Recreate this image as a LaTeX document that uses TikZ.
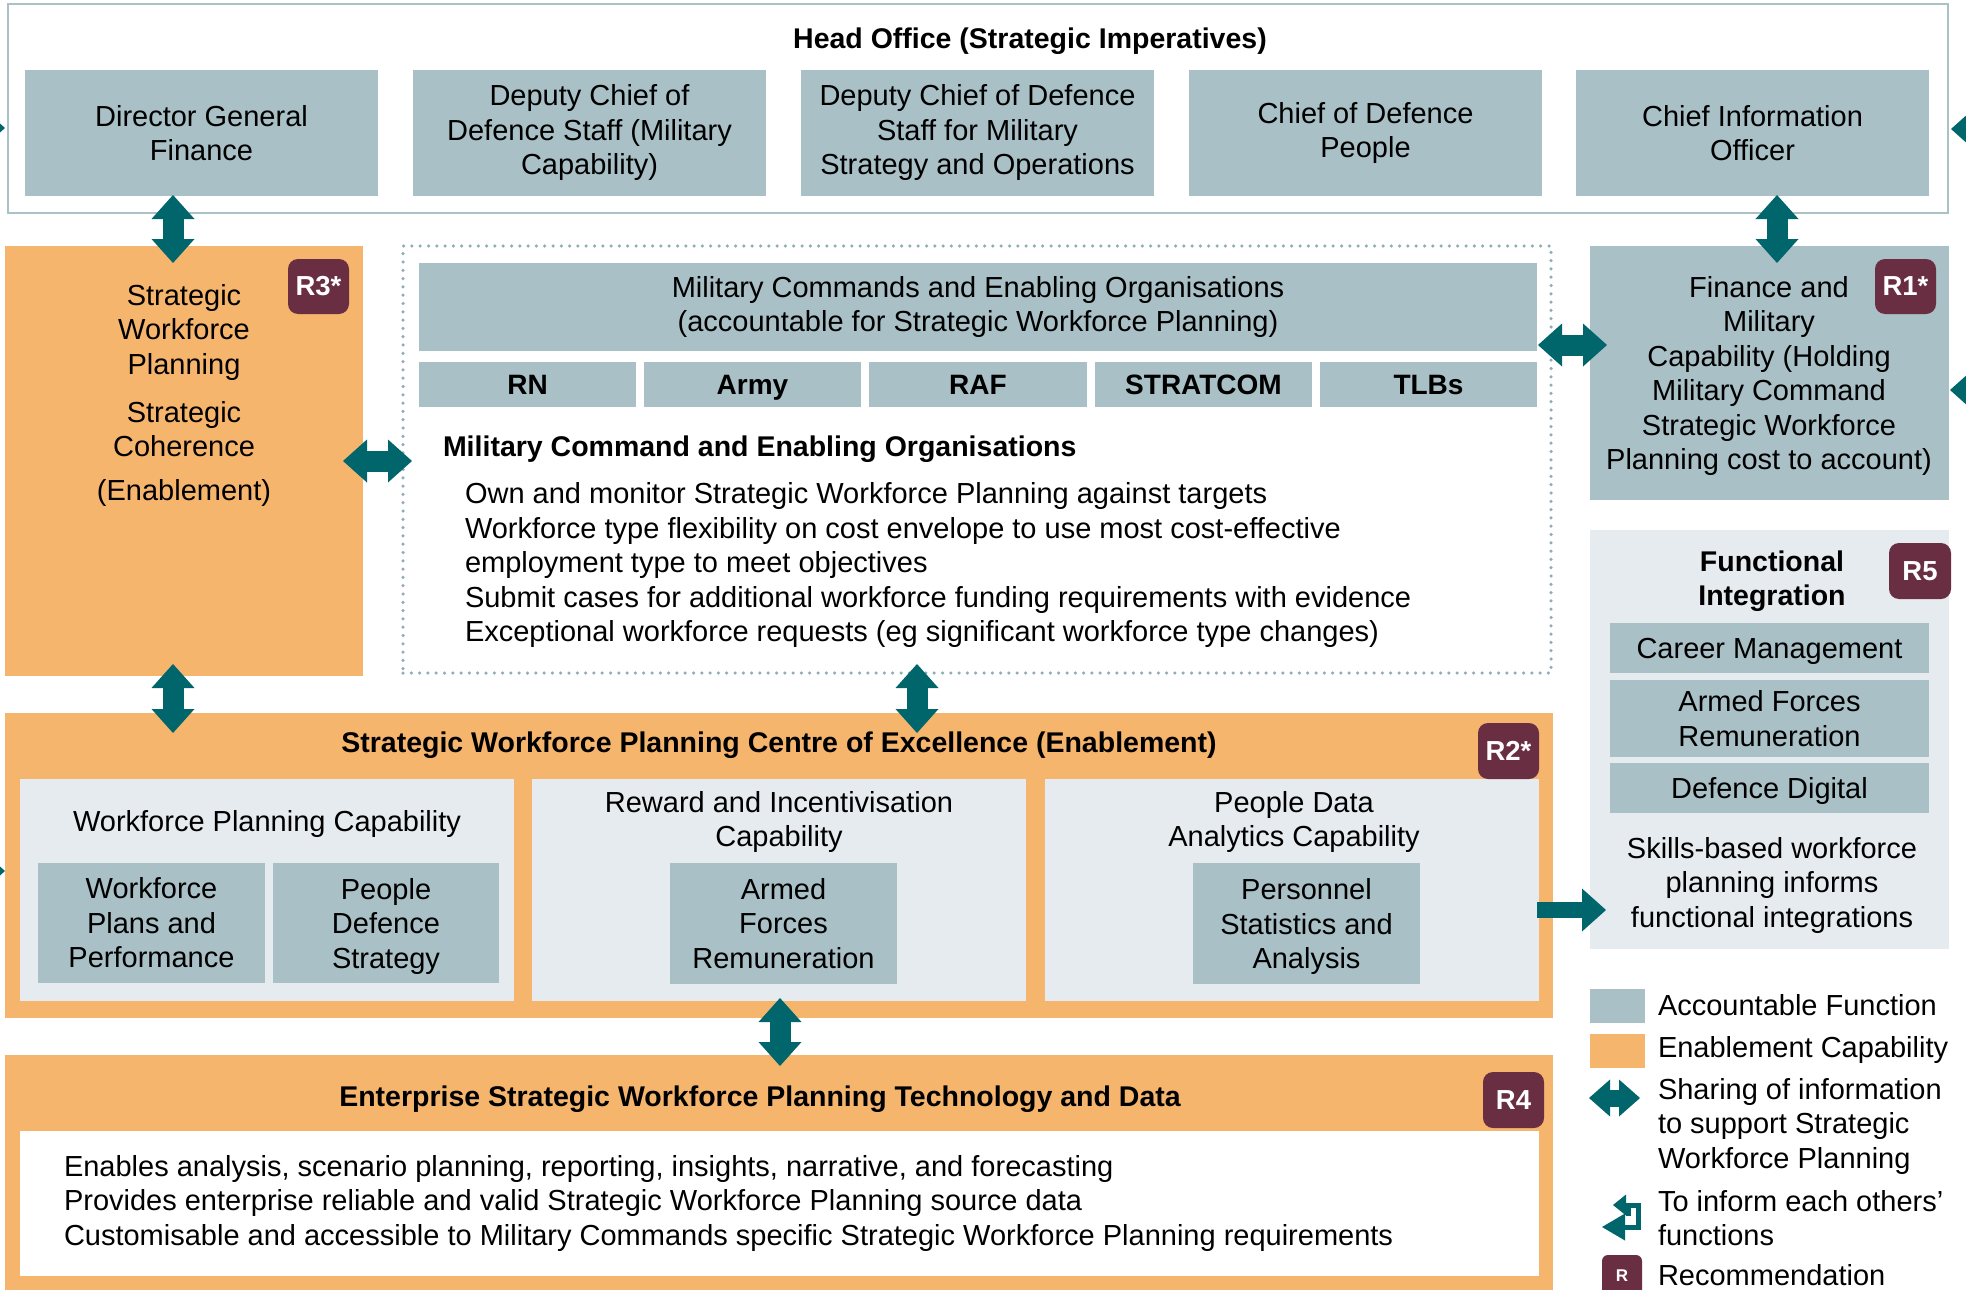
\documentclass[tikz,border=0pt]{standalone}
\usepackage{fontspec}
\setmainfont{Liberation Sans}
\usetikzlibrary{arrows.meta,calc}
\definecolor{accC}{HTML}{A8C0C6}
\definecolor{orC}{HTML}{F6B56D}
\definecolor{lightC}{HTML}{E6EBEF}
\definecolor{tealC}{HTML}{00666B}
\definecolor{badgeC}{HTML}{6A2E43}
\definecolor{dotC}{HTML}{8DAEB4}
\definecolor{hoC}{HTML}{A9C1C7}
\newcommand{\mkbox}[7]{%
  \pgfmathsetmacro\mkcx{(#2+#4)/2}%
  \pgfmathsetmacro\mkcy{(#3+#5)/2}%
  \pgfmathsetmacro\mkw{#4-#2}%
  \pgfmathsetmacro\mkh{#5-#3}%
  \node[#6, minimum width=\mkw pt, minimum height=\mkh pt] (#1) at (\mkcx,\mkcy) {#7};}
\tikzset{
  mybase/.style={inner sep=0pt, outer sep=0pt, text=black, font=\fontsize{29}{34.5}\selectfont},
  acc/.style={mybase, fill=accC, align=center},
  accone/.style={acc, text height=20.6pt, text depth=0pt},
  accnd/.style={acc, text depth=0pt},
  accb/.style={acc, text height=20.3pt, text depth=0pt, font=\bfseries\fontsize{28}{34}\selectfont},
  orng/.style={mybase, fill=orC},
  light/.style={mybase, fill=lightC},
  txt/.style={mybase, align=center},
  btxt/.style={mybase, align=center, font=\bfseries\fontsize{28.5}{34.5}\selectfont},
  badge/.style={mybase, fill=badgeC, rounded corners=10pt, text=white, font=\bfseries\fontsize{27.5}{30}\selectfont},
  dotbox/.style={mybase, draw=dotC, line width=3.5pt, dash pattern=on 0pt off 8.3pt, line cap=round},
  fat/.style={draw=tealC, line width=21pt, {Triangle[width=43pt,length=24pt,line width=0pt]}-{Triangle[width=43pt,length=24pt,line width=0pt]}},
  fatone/.style={draw=tealC, line width=16pt, -{Triangle[width=43pt,length=24pt,line width=0pt]}},
  fatend/.style={draw=tealC, line width=21pt, -{Triangle[width=43pt,length=24pt,line width=0pt]}},
}
\begin{document}
\begin{tikzpicture}[x=1pt,y=-1pt]
\useasboundingbox (0,0) rectangle (1966,1290);
\fill[white] (0,0) rectangle (1966,1290);

% Head office
\mkbox{ho}{8}{4}{1948}{213}{mybase, draw=hoC, line width=2.5pt, fill=white}{}
\node[btxt] (hot) at (1030,41) {Head Office (Strategic Imperatives)};
\mkbox{dgf}{25}{70}{378}{196}{acc}{Director General\\Finance}
\mkbox{dcds}{413}{70}{766}{196}{acc}{Deputy Chief of\\Defence Staff (Military\\Capability)}
\mkbox{dcdso}{801}{70}{1154}{196}{acc}{Deputy Chief of Defence\\Staff for Military\\Strategy and Operations}
\mkbox{cdp}{1189}{70}{1542}{196}{acc}{Chief of Defence\\People}
\mkbox{cio}{1576}{70}{1929}{196}{acc}{Chief Information\\Officer}

% R3 box
\mkbox{r3}{5}{246}{363}{676}{orng}{}
\node[txt] (r3a) at (184,332) {Strategic\\Workforce\\Planning};
\node[txt] (r3b) at (184,429) {Strategic\\Coherence};
\node[txt] (r3c) at (184,493) {(Enablement)};
\mkbox{b3}{288}{259}{349}{314}{badge}{R3*}

% Military commands dotted box
\mkbox{mco}{403}{246}{1551}{673}{dotbox}{}
\mkbox{mch}{419}{263}{1537}{351}{acc}{Military Commands and Enabling Organisations\\(accountable for Strategic Workforce Planning)}
\mkbox{rn}{419}{362}{636}{407}{accb}{RN}
\mkbox{army}{644}{362}{861}{407}{accb}{Army}
\mkbox{raf}{869}{362}{1087}{407}{accb}{RAF}
\mkbox{stratcom}{1095}{362}{1312}{407}{accb}{STRATCOM}
\mkbox{tlbs}{1320}{362}{1537}{407}{accb}{TLBs}
\node[btxt, anchor=west] (mct) at (443,449) {Military Command and Enabling Organisations};
\node[txt, align=left, anchor=west] (mcb) at (465,565) {Own and monitor Strategic Workforce Planning against targets\\Workforce type flexibility on cost envelope to use most cost-effective\\employment type to meet objectives\\Submit cases for additional workforce funding requirements with evidence\\Exceptional workforce requests (eg significant workforce type changes)};

% Finance box
\mkbox{fin}{1590}{246}{1949}{500}{acc}{}
\node[txt] (fint) at (1769,376) {Finance and\\Military\\Capability (Holding\\Military Command\\Strategic Workforce\\Planning cost to account)};
\mkbox{b1}{1875}{259}{1936}{314}{badge}{R1*}

% Functional integration
\mkbox{fi}{1590}{530}{1949}{949}{light}{}
\node[btxt] (fit) at (1772,581) {Functional\\Integration};
\mkbox{b5}{1889}{543}{1951}{599}{badge}{R5}
\mkbox{cm}{1610}{623}{1929}{673}{accone}{Career Management}
\mkbox{afr}{1610}{680}{1929}{757}{acc}{Armed Forces\\Remuneration}
\mkbox{dd}{1610}{763}{1929}{813}{accone}{Defence Digital}
\node[txt] (fis) at (1772,885) {Skills-based workforce\\planning informs\\functional integrations};

% Centre of excellence
\mkbox{coe}{5}{713}{1553}{1018}{orng}{}
\node[btxt] (coet) at (779,745) {Strategic Workforce Planning Centre of Excellence (Enablement)};
\mkbox{p1}{20}{779}{514}{1001}{light}{}
\node[txt] (p1t) at (267,824) {Workforce Planning Capability};
\mkbox{wpp}{38}{863}{265}{983}{acc}{Workforce\\Plans and\\Performance}
\mkbox{pds}{273}{863}{499}{983}{accnd}{People\\Defence\\Strategy}
\mkbox{p2}{532}{779}{1026}{1001}{light}{}
\node[txt] (p2t) at (779,822) {Reward and Incentivisation\\Capability};
\mkbox{afr2}{670}{863}{897}{984}{acc}{Armed\\Forces\\Remuneration}
\mkbox{p3}{1045}{779}{1539}{1001}{light}{}
\node[txt] (p3t) at (1294,822) {People Data\\Analytics Capability};
\mkbox{psa}{1193}{863}{1420}{984}{accnd}{Personnel\\Statistics and\\Analysis}
\mkbox{b2}{1478}{723}{1539}{779}{badge}{R2*}

% Enterprise
\mkbox{ent}{5}{1055}{1553}{1296}{orng}{}
\node[btxt] (entt) at (760,1099) {Enterprise Strategic Workforce Planning Technology and Data};
\mkbox{b4}{1483}{1072}{1544}{1128}{badge}{R4}
\mkbox{entw}{20}{1131}{1539}{1276}{mybase, fill=white}{}
\node[txt, align=left, anchor=west] (entb) at (64,1203) {Enables analysis, scenario planning, reporting, insights, narrative, and forecasting\\Provides enterprise reliable and valid Strategic Workforce Planning source data\\Customisable and accessible to Military Commands specific Strategic Workforce Planning requirements};

% Legend
\mkbox{lg1}{1590}{989}{1645}{1023}{acc}{}
\mkbox{lg2}{1590}{1034}{1645}{1068}{orng}{}
\node[txt, anchor=west] (lt1) at (1658,1005) {Accountable Function};
\node[txt, anchor=west] (lt2) at (1658,1050) {Enablement Capability};
\node[txt, anchor=west, align=left] (lt3) at (1658,1126) {Sharing of information\\to support Strategic\\Workforce Planning};
\node[txt, anchor=west, align=left] (lt4) at (1658,1218) {To inform each others'\\functions};
\node[txt, anchor=west] (lt5) at (1658,1275) {Recommendation};
\mkbox{lgb}{1602}{1255}{1642}{1296}{badge, rounded corners=6pt, font=\bfseries\fontsize{17}{18}\selectfont}{R}
\coordinate (la1) at (1589,1098);
\coordinate (la2) at (1640,1098);
\draw[draw=tealC, line width=17pt, {Triangle[width=37pt,length=21pt,line width=0pt]}-{Triangle[width=37pt,length=21pt,line width=0pt]}] (la1) -- (la2);
% return icon
\draw[tealC, line width=5pt, -{Triangle[width=21pt,length=13pt,line width=0pt]}] (1638,1229) -- (1638,1205) -- (1613,1205);
\draw[tealC, line width=5pt, -{Triangle[width=27pt,length=23pt,line width=0pt]}] (1640.5,1227) -- (1602,1227);
\draw[tealC, line width=5pt] (1628,1205) -- (1628,1216);

% Connectors
\draw[fat] ($(dgf.south west)+(148,-1)$) -- ($(r3.north west)+(168,17)$);
\draw[fat] ($(cio.south west)+(201,-1)$) -- ($(fin.north west)+(187,17)$);
\draw[fat] ($(r3.north east)+(-20,215)$) -- ($(mco.north west)+(9,215)$);
\draw[fat] ($(mco.north east)+(-13,99)$) -- ($(fin.north west)+(17,99)$);
\draw[fat] ($(r3.south west)+(168,-12)$) -- ($(coe.north west)+(168,20)$);
\draw[fat] ($(mco.south west)+(514,-9)$) -- ($(coe.north west)+(912,20)$);
\draw[fat] ($(coe.south west)+(775,-20)$) -- ($(ent.north west)+(775,11)$);
\draw[fatone] ($(coe.south east)+(-16,-108)$) -- ($(fi.south west)+(16,-39)$);

% arrows entering from outside the frame
\coordinate (el1s) at (-40,128); \coordinate (el1e) at (5,128);
\coordinate (el2s) at (-40,871); \coordinate (el2e) at (5,871);
\coordinate (er1s) at (2010,129); \coordinate (er1e) at (1951,129);
\coordinate (er2s) at (2010,390); \coordinate (er2e) at (1950,390);
\draw[fatend] (el1s) -- (el1e);
\draw[fatend] (el2s) -- (el2e);
\draw[fatend] (er1s) -- (er1e);
\draw[fatend] (er2s) -- (er2e);
\end{tikzpicture}
\end{document}
